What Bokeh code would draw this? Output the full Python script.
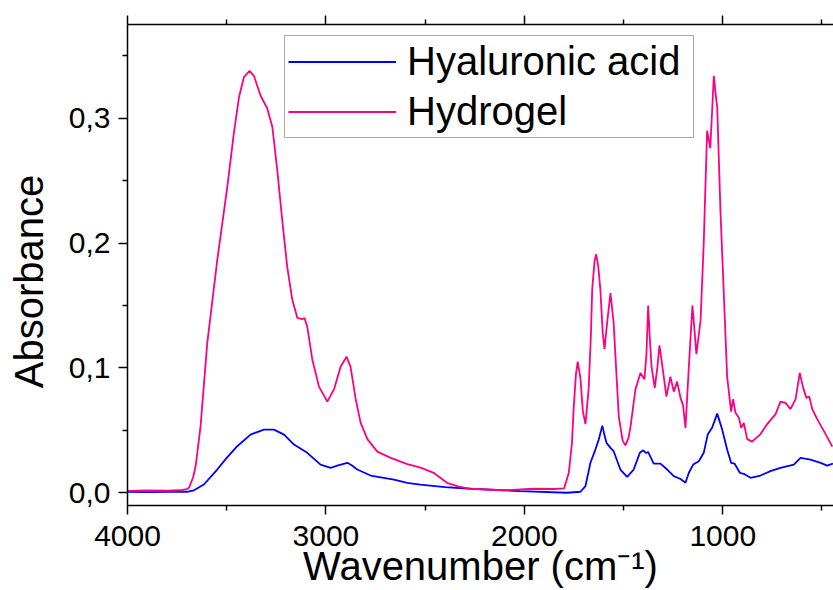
import math
from bokeh.plotting import figure
from bokeh.models import (Range1d, LinearAxis, FixedTicker, CustomJSTickFormatter,
                          Legend, LegendItem, Label)
from bokeh.embed import file_html
from bokeh.resources import INLINE

# ---------------- data ----------------
hydrogel_wn = [4000, 3900, 3800, 3740, 3700, 3690, 3670, 3657, 3632, 3598, 3548, 3497,
               3464, 3438, 3413, 3385, 3363, 3329, 3296, 3270, 3245, 3220, 3195, 3170,
               3144, 3120, 3108, 3094, 3069, 3035, 2993, 2959, 2926, 2896, 2876, 2850,
               2825, 2791, 2741, 2674, 2640, 2590, 2541, 2520, 2457, 2390, 2330, 2272,
               2104, 1953, 1850, 1800, 1776, 1760, 1751, 1740, 1731, 1717, 1705, 1692,
               1676, 1665, 1658, 1646, 1638, 1628, 1617, 1605, 1596, 1583, 1566, 1550,
               1537, 1524, 1505, 1491, 1475, 1465, 1440, 1415, 1395, 1385, 1376, 1368,
               1359, 1343, 1330, 1319, 1300, 1284, 1264, 1247, 1230, 1213, 1200, 1188,
               1171, 1153, 1145, 1133, 1112, 1096, 1079, 1063, 1045, 1035, 1028, 1012,
               995, 978, 958, 948, 936, 919, 907, 894, 877, 852, 810, 776, 734, 709,
               684, 659, 633, 612, 595, 578, 564, 549, 524, 482, 448]
hydrogel_abs = [0.0015, 0.0018, 0.0016, 0.0020, 0.0030, 0.004, 0.012, 0.021, 0.053, 0.120,
                0.186, 0.245, 0.288, 0.317, 0.333, 0.338, 0.334, 0.318, 0.308, 0.293,
                0.258, 0.218, 0.181, 0.155, 0.140, 0.139, 0.140, 0.133, 0.107, 0.085,
                0.073, 0.083, 0.101, 0.109, 0.101, 0.075, 0.056, 0.043, 0.033, 0.028,
                0.026, 0.023, 0.021, 0.020, 0.016, 0.008, 0.005, 0.0032, 0.002, 0.0032,
                0.003, 0.0035, 0.016, 0.040, 0.069, 0.095, 0.105, 0.091, 0.065, 0.055,
                0.083, 0.125, 0.163, 0.186, 0.191, 0.182, 0.163, 0.128, 0.115, 0.136,
                0.160, 0.136, 0.098, 0.061, 0.042, 0.038, 0.044, 0.053, 0.083, 0.096,
                0.091, 0.110, 0.150, 0.125, 0.101, 0.084, 0.100, 0.118, 0.096, 0.077,
                0.093, 0.081, 0.089, 0.076, 0.070, 0.052, 0.101, 0.150, 0.135, 0.111,
                0.138, 0.200, 0.290, 0.276, 0.334, 0.318, 0.309, 0.227, 0.160, 0.093,
                0.065, 0.075, 0.064, 0.060, 0.052, 0.056, 0.043, 0.041, 0.047, 0.055,
                0.063, 0.073, 0.072, 0.067, 0.075, 0.096, 0.084, 0.076, 0.077, 0.067,
                0.059, 0.047, 0.037]

hyaluronic_wn = [4000, 3900, 3800, 3700, 3665, 3615, 3548, 3500, 3447, 3380, 3312, 3262,
                 3211, 3161, 3094, 3027, 2976, 2943, 2892, 2870, 2842, 2775, 2657, 2590,
                 2524, 2400, 2272, 2020, 1785, 1717, 1692, 1667, 1642, 1625, 1607, 1596,
                 1586, 1566, 1550, 1516, 1482, 1449, 1418, 1401, 1388, 1376, 1348, 1314,
                 1280, 1247, 1213, 1188, 1171, 1149, 1121, 1096, 1076, 1054, 1028, 1003,
                 978, 958, 941, 914, 894, 860, 810, 760, 709, 642, 608, 558, 507, 474, 445]
hyaluronic_abs = [0.0008, 0.0005, 0.0008, 0.0008, 0.002, 0.0066, 0.0186, 0.028, 0.0373,
                  0.0466, 0.0506, 0.0506, 0.0466, 0.0386, 0.032, 0.0226, 0.020, 0.0218,
                  0.024, 0.022, 0.0186, 0.0138, 0.0106, 0.008, 0.0066, 0.0045, 0.0032,
                  0.0013, 0.000, 0.0008, 0.0053, 0.024, 0.0346, 0.0426, 0.0538, 0.046,
                  0.040, 0.036, 0.0333, 0.0186, 0.0128, 0.0186, 0.032, 0.034, 0.032,
                  0.0325, 0.0234, 0.0234, 0.0186, 0.0133, 0.011, 0.008, 0.016, 0.0226,
                  0.0253, 0.032, 0.0466, 0.052, 0.0634, 0.0506, 0.0346, 0.024, 0.0234,
                  0.016, 0.0152, 0.012, 0.0138, 0.0173, 0.020, 0.0226, 0.028, 0.0266,
                  0.024, 0.0218, 0.0234]

series_names = ["Hyaluronic acid", "Hydrogel"]
x_title = "Wavenumber (cm\u207b\u00b9)"
y_title = "Absorbance"
x_major_ticks = [4000, 3000, 2000, 1000]
x_minor_ticks = [3500, 2500, 1500, 500]
y_major_ticks = [0.0, 0.1, 0.2, 0.3]
y_minor_ticks = [0.05, 0.15, 0.25, 0.35]

FONT = "Liberation Sans"

p = figure(width=833, height=590, output_backend="svg", toolbar_location=None,
           x_range=Range1d(4000, 442), y_range=Range1d(-0.0102, 0.3751),
           min_border_left=127, min_border_right=0, min_border_top=24, min_border_bottom=84,
           background_fill_color="white", border_fill_color="white",
           outline_line_color=None)
p.grid.visible = False

l_ha = p.line(hyaluronic_wn, hyaluronic_abs, line_color="#0000FF", line_width=1.8)
l_hg = p.line(hydrogel_wn, hydrogel_abs, line_color="#FF0080", line_width=1.8)

def style_axis(ax, ticks, minor):
    ax.ticker = FixedTicker(ticks=ticks, minor_ticks=minor)
    ax.axis_line_color = "black"
    ax.axis_line_width = 1.5
    ax.major_tick_line_color = "black"
    ax.major_tick_line_width = 1.5
    ax.minor_tick_line_color = "black"
    ax.minor_tick_line_width = 1.5
    ax.major_tick_in = 0
    ax.major_tick_out = 9
    ax.minor_tick_in = 0
    ax.minor_tick_out = 5
    ax.major_label_text_font = FONT
    ax.major_label_text_font_size = "30px"
    ax.major_label_text_color = "black"

xa = p.xaxis[0]
style_axis(xa, x_major_ticks, x_minor_ticks)
xa.major_label_standoff = 11
xa.axis_label = x_title
xa.axis_label_text_font = FONT
xa.axis_label_text_font_size = "40px"
xa.axis_label_text_font_style = "normal"
xa.axis_label_text_color = "black"
xa.axis_label_standoff = -5

ya = p.yaxis[0]
style_axis(ya, y_major_ticks, y_minor_ticks)
ya.major_label_standoff = 8
ya.formatter = CustomJSTickFormatter(code="return tick.toFixed(1).replace('.', ',');")

top = LinearAxis()
style_axis(top, x_major_ticks, x_minor_ticks)
top.formatter = CustomJSTickFormatter(code="return '';")
top.major_label_standoff = 0
p.add_layout(top, "above")

# y title placed in the left panel, positioned through the data scales
ylab = Label(x=4494, y=0.1693, x_units="data", y_units="data", text=y_title,
             angle=math.pi / 2, text_align="center", text_baseline="alphabetic",
             text_font=FONT, text_font_size="40px", text_color="black")
p.add_layout(ylab, "left")

legend = Legend(items=[LegendItem(label=series_names[0], renderers=[l_ha]),
                       LegendItem(label=series_names[1], renderers=[l_hg])],
                location=(157, 367), margin=0, padding=3, spacing=5,
                glyph_width=108, glyph_height=45, label_height=45, label_width=283,
                label_standoff=11, label_text_font=FONT, label_text_font_size="40px",
                label_text_color="black", border_line_color="#555555",
                border_line_width=1.5, background_fill_color="white",
                background_fill_alpha=1.0)
p.add_layout(legend, "center")

open("out.html", "w").write(file_html(p, INLINE))
